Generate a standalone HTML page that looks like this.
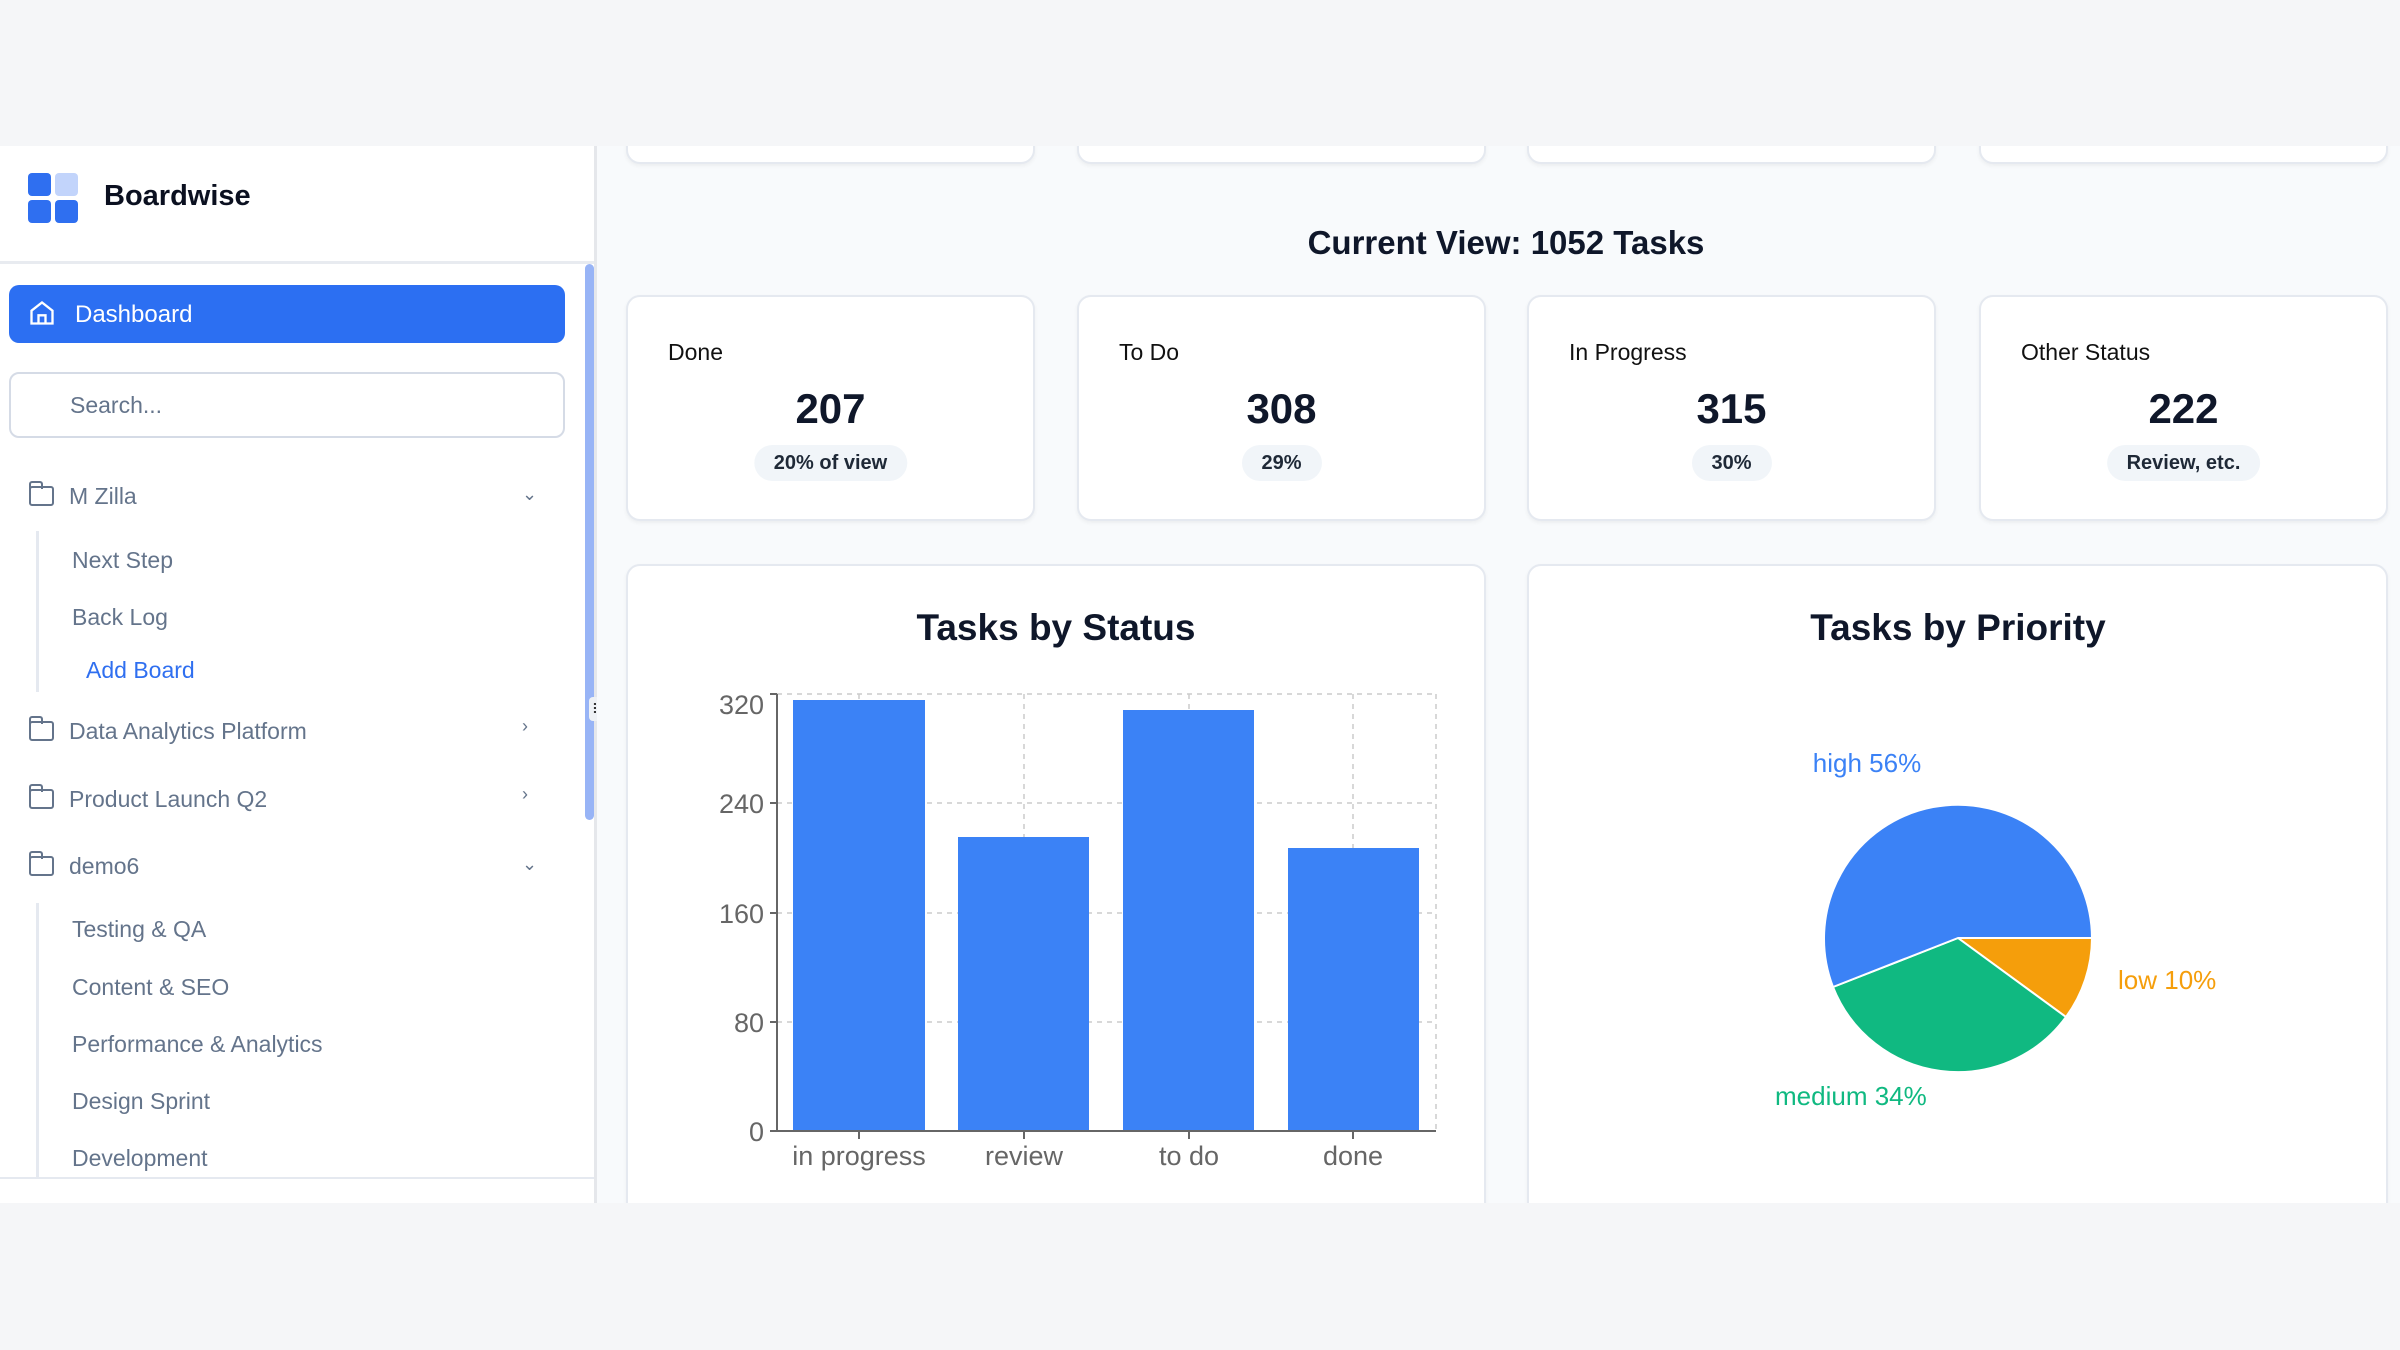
<!DOCTYPE html>
<html><head><meta charset="utf-8"><style>
*{box-sizing:border-box;margin:0;padding:0}
body{width:2400px;height:1350px;background:#f5f6f8;position:relative;overflow:hidden;font-family:"Liberation Sans",sans-serif;color:#111827}
.a{position:absolute}
#main{left:597px;top:146px;width:1803px;height:1057px;background:#f8fafc;overflow:hidden}
#side{left:0;top:146px;width:597px;height:1057px;background:#fff;border-right:3px solid #e5e7eb}
.card{position:absolute;background:#fff;border:2px solid #e5e9f0;border-radius:14px;box-shadow:0 2px 4px rgba(0,0,0,.05)}
.lbl{position:absolute;left:40px;top:42px;font-size:23px;color:#111}
.num{position:absolute;left:0;right:0;top:88px;text-align:center;font-size:42px;font-weight:bold;color:#0f172a}
.pill{position:absolute;top:148px;left:50%;transform:translateX(-50%);height:36px;line-height:36px;padding:0 20px;border-radius:18px;background:#f1f5f9;font-size:20px;font-weight:bold;color:#1f2937;white-space:nowrap}
.nav{position:absolute;font-size:23px;color:#64748b}
.fold{position:absolute;left:29px;width:25px;height:20px;border:2.5px solid #64748b;border-radius:3px}
.fold:before{content:"";position:absolute;left:-2.5px;top:-7px;width:10px;height:6px;border:2.5px solid #64748b;border-bottom:none;border-radius:3px 3px 0 0}
.chev{position:absolute;left:522px;font-size:18px;color:#64748b}
</style></head><body>
<div id="side" class="a">
  <div class="a" style="left:28px;top:27px;width:23px;height:23px;background:#2f6ff0;border-radius:4px"></div>
  <div class="a" style="left:55px;top:27px;width:23px;height:23px;background:#c2d4fb;border-radius:4px"></div>
  <div class="a" style="left:28px;top:54px;width:23px;height:23px;background:#2f6ff0;border-radius:4px"></div>
  <div class="a" style="left:55px;top:54px;width:23px;height:23px;background:#2f6ff0;border-radius:4px"></div>
  <div class="a" style="left:104px;top:34px;font-size:29px;font-weight:bold;color:#0b1020">Boardwise</div>
  <div class="a" style="left:0;top:115px;width:594px;height:3px;background:#e8ebf0"></div>
  <div class="a" style="left:9px;top:139px;width:556px;height:58px;background:#2c6ff2;border-radius:10px"></div>
  <svg class="a" style="left:28px;top:153px" width="28" height="28" viewBox="0 0 24 24" fill="none" stroke="#fff" stroke-width="2"><path d="M3 10 L12 3 L21 10 V21 H3 Z M9 21 V14 H15 V21"/></svg>
  <div class="a" style="left:75px;top:155px;font-size:24px;color:#fff">Dashboard</div>
  <div class="a" style="left:9px;top:226px;width:556px;height:66px;border:2px solid #d5dbe6;border-radius:10px"></div>
  <div class="a" style="left:70px;top:246px;font-size:23px;color:#64748b">Search...</div>
  <div class="fold" style="top:340px"></div><div class="nav" style="left:69px;top:337px">M Zilla</div><div class="chev" style="top:338px">⌄</div>
  <div class="a" style="left:36px;top:385px;width:3px;height:161px;background:#e5e9f0"></div>
  <div class="nav" style="left:72px;top:401px">Next Step</div>
  <div class="nav" style="left:72px;top:458px">Back Log</div>
  <div class="nav" style="left:86px;top:511px;color:#2f6ff0">Add Board</div>
  <div class="fold" style="top:575px"></div><div class="nav" style="left:69px;top:572px">Data Analytics Platform</div><div class="chev" style="top:570px">›</div>
  <div class="fold" style="top:643px"></div><div class="nav" style="left:69px;top:640px">Product Launch Q2</div><div class="chev" style="top:638px">›</div>
  <div class="fold" style="top:710px"></div><div class="nav" style="left:69px;top:707px">demo6</div><div class="chev" style="top:708px">⌄</div>
  <div class="a" style="left:36px;top:757px;width:3px;height:275px;background:#e5e9f0"></div>
  <div class="nav" style="left:72px;top:770px">Testing &amp; QA</div>
  <div class="nav" style="left:72px;top:828px">Content &amp; SEO</div>
  <div class="nav" style="left:72px;top:885px">Performance &amp; Analytics</div>
  <div class="nav" style="left:72px;top:942px">Design Sprint</div>
  <div class="nav" style="left:72px;top:999px">Development</div>
  <div class="a" style="left:0;top:1031px;width:594px;height:2px;background:#e5e9f0"></div>
  <div class="a" style="left:585px;top:118px;width:9px;height:556px;background:#98b4f6;border-radius:5px"></div>
</div>
<div class="a" style="left:589px;top:697px;width:16px;height:24px;background:#eef1f5;border-radius:4px;font-size:14px;text-align:center;line-height:24px;color:#333">⠿</div>
<div id="main" class="a">
  <div class="card" style="left:29px;top:-20px;width:409px;height:38px"></div>
  <div class="card" style="left:480px;top:-20px;width:409px;height:38px"></div>
  <div class="card" style="left:930px;top:-20px;width:409px;height:38px"></div>
  <div class="card" style="left:1382px;top:-20px;width:409px;height:38px"></div>
  <div class="a" style="left:0;width:1818px;top:78px;text-align:center;font-size:33px;font-weight:bold;color:#0f172a">Current View: 1052 Tasks</div>
  <div class="card" style="left:29px;top:149px;width:409px;height:226px"><div class="lbl">Done</div><div class="num">207</div><div class="pill">20% of view</div></div>
  <div class="card" style="left:480px;top:149px;width:409px;height:226px"><div class="lbl">To Do</div><div class="num">308</div><div class="pill">29%</div></div>
  <div class="card" style="left:930px;top:149px;width:409px;height:226px"><div class="lbl">In Progress</div><div class="num">315</div><div class="pill">30%</div></div>
  <div class="card" style="left:1382px;top:149px;width:409px;height:226px"><div class="lbl">Other Status</div><div class="num">222</div><div class="pill">Review, etc.</div></div>
  <div class="card" style="left:29px;top:418px;width:860px;height:700px"></div>
  <div class="card" style="left:930px;top:418px;width:861px;height:700px"></div>
</div>
<svg class="a" style="left:0;top:0" width="2400" height="1203" font-family="Liberation Sans, sans-serif">
  <defs><clipPath id="c"><rect x="597" y="146" width="1803" height="1057"/></clipPath></defs>
  <g clip-path="url(#c)">
  <text x="1056" y="640" text-anchor="middle" font-size="37" font-weight="bold" fill="#0f172a">Tasks by Status</text>
  <text x="1958" y="640" text-anchor="middle" font-size="37" font-weight="bold" fill="#0f172a">Tasks by Priority</text>
  <g stroke="#ccc" stroke-width="1.5" stroke-dasharray="5 5" fill="none">
    <line x1="777" y1="694" x2="1436" y2="694"/><line x1="777" y1="803" x2="1436" y2="803"/><line x1="777" y1="913" x2="1436" y2="913"/><line x1="777" y1="1022" x2="1436" y2="1022"/>
    <line x1="859" y1="694" x2="859" y2="1131"/><line x1="1024" y1="694" x2="1024" y2="1131"/><line x1="1189" y1="694" x2="1189" y2="1131"/><line x1="1353" y1="694" x2="1353" y2="1131"/><line x1="1436" y1="694" x2="1436" y2="1131"/>
  </g>
  <g fill="#3b82f6">
    <rect x="793" y="700" width="132" height="431"/><rect x="958" y="837" width="131" height="294"/><rect x="1123" y="710" width="131" height="421"/><rect x="1288" y="848" width="131" height="283"/>
  </g>
  <g stroke="#666" stroke-width="2">
    <line x1="777" y1="694" x2="777" y2="1131"/><line x1="776" y1="1131" x2="1436" y2="1131"/>
    <line x1="770" y1="694" x2="777" y2="694"/><line x1="770" y1="803" x2="777" y2="803"/><line x1="770" y1="913" x2="777" y2="913"/><line x1="770" y1="1022" x2="777" y2="1022"/><line x1="770" y1="1131" x2="777" y2="1131"/>
    <line x1="859" y1="1131" x2="859" y2="1139"/><line x1="1024" y1="1131" x2="1024" y2="1139"/><line x1="1189" y1="1131" x2="1189" y2="1139"/><line x1="1353" y1="1131" x2="1353" y2="1139"/>
  </g>
  <g font-size="27" fill="#666" text-anchor="end">
    <text x="764" y="714">320</text><text x="764" y="813">240</text><text x="764" y="923">160</text><text x="764" y="1032">80</text><text x="764" y="1141">0</text>
  </g>
  <g font-size="27" fill="#666" text-anchor="middle">
    <text x="859" y="1165">in progress</text><text x="1024" y="1165">review</text><text x="1189" y="1165">to do</text><text x="1353" y="1165">done</text>
  </g>
  <g stroke="#fff" stroke-width="2">
    <path d="M1958 938 L2092 938 A134 134 0 0 1 2066 1017 Z" fill="#f59e0b"/>
    <path d="M1958 938 L2066 1017 A134 134 0 0 1 1833 987 Z" fill="#10b981"/>
    <path d="M1958 938 L1833 987 A134 134 0 1 1 2092 938 Z" fill="#3b82f6"/>
  </g>
  <text x="1867" y="772" text-anchor="middle" font-size="26" fill="#3b82f6">high 56%</text>
  <text x="2118" y="989" font-size="26" fill="#f59e0b">low 10%</text>
  <text x="1775" y="1105" font-size="26" fill="#10b981">medium 34%</text>
  </g>
</svg>
</body></html>
